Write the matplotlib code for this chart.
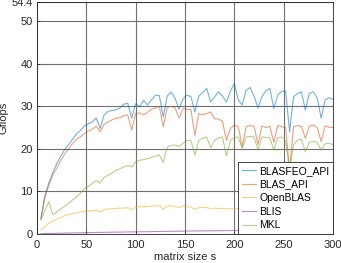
import numpy as np
import matplotlib
matplotlib.use("Agg")
import matplotlib.pyplot as plt

plt.rcParams['font.family'] = ['Liberation Sans', 'DejaVu Sans']

# matrix sizes
s = np.arange(4, 301, 4)

blasfeo_api = [3.5, 9.0, 12.0, 14.5, 16.5, 18.3, 19.8, 21.0, 22.2, 23.5,
               24.3, 25.4, 25.9, 26.3, 27.3, 24.8, 28.0, 28.8, 29.0, 29.2,
               29.6, 30.5, 30.7, 27.2, 30.6, 29.9, 31.4, 30.3, 31.5, 32.6,
               32.5, 27.5, 32.4, 33.4, 31.8, 29.3, 31.8, 32.6, 32.3, 28.7,
               32.4, 33.2, 34.2, 31.0, 32.2, 33.4, 32.4, 31.0, 33.5, 35.4,
               31.5, 30.3, 33.8, 34.4, 32.4, 29.6, 32.3, 33.7, 34.2, 29.5,
               32.6, 33.5, 33.6, 24.0, 32.2, 33.0, 33.4, 29.1, 33.0, 33.4,
               32.0, 27.2, 31.5, 32.0, 31.6]

blas_api = [3.8, 8.5, 11.5, 13.8, 15.5, 17.3, 18.8, 20.0, 21.2, 22.3,
            22.8, 23.6, 24.2, 24.6, 25.3, 24.0, 25.8, 26.3, 26.8, 27.2,
            27.3, 27.8, 28.0, 24.4, 28.4, 28.4, 28.0, 28.6, 29.3, 29.6,
            30.0, 25.2, 29.7, 30.0, 29.6, 27.2, 29.5, 29.3, 29.2, 23.2,
            28.3, 28.0, 28.3, 28.7, 27.1, 27.0, 26.5, 22.0, 24.8, 25.6,
            25.2, 20.5, 25.2, 25.5, 25.3, 21.0, 25.4, 25.0, 25.3, 21.5,
            25.5, 25.2, 25.0, 15.0, 25.2, 25.5, 25.3, 22.5, 25.3, 25.6,
            25.0, 21.7, 25.4, 25.1, 25.0]

openblas = [1.0, 1.8, 2.5, 3.1, 3.5, 3.9, 4.3, 4.6, 4.8, 5.0,
            5.2, 5.3, 5.4, 5.5, 5.6, 5.2, 5.8, 5.9, 5.9, 6.0,
            6.1, 6.1, 6.2, 5.7, 6.3, 6.4, 6.4, 6.5, 6.6, 6.6,
            6.7, 5.8, 6.6, 6.6, 6.5, 6.2, 6.6, 6.5, 6.3, 5.8,
            6.2, 6.3, 6.2, 5.9, 6.1, 6.0, 6.0, 5.9, 6.0, 6.0,
            5.9, 5.8, 5.8, 5.9, 5.9, 5.7, 5.9, 5.9, 5.8, 5.7,
            5.9, 5.9, 5.8, 5.5, 5.9, 5.9, 5.8, 5.7, 5.9, 5.9,
            5.8, 5.7, 5.8, 5.8, 5.8]

blis = [0.10, 0.12, 0.14, 0.16, 0.18, 0.20, 0.22, 0.24, 0.26, 0.28,
        0.30, 0.32, 0.34, 0.36, 0.38, 0.40, 0.41, 0.42, 0.44, 0.45,
        0.46, 0.48, 0.50, 0.51, 0.52, 0.54, 0.55, 0.56, 0.58, 0.60,
        0.61, 0.62, 0.64, 0.65, 0.66, 0.68, 0.70, 0.71, 0.72, 0.73,
        0.74, 0.75, 0.76, 0.77, 0.78, 0.79, 0.80, 0.81, 0.82, 0.83,
        0.84, 0.85, 0.86, 0.86, 0.87, 0.88, 0.88, 0.89, 0.90, 0.90,
        0.91, 0.92, 0.92, 0.93, 0.93, 0.94, 0.94, 0.95, 0.95, 0.96,
        0.96, 0.97, 0.97, 0.98, 0.98]

mkl = [3.3, 5.5, 7.6, 4.5, 5.2, 5.9, 6.5, 7.2, 8.0, 8.7,
       9.6, 10.6, 11.2, 11.9, 12.6, 12.0, 13.3, 13.8, 14.3, 14.9,
       15.3, 15.8, 16.1, 15.8, 17.0, 17.3, 17.5, 17.7, 18.0, 18.3,
       18.6, 16.8, 20.4, 20.8, 20.9, 20.6, 21.3, 22.0, 22.0, 18.5,
       22.0, 22.5, 22.8, 20.3, 22.0, 22.6, 22.8, 18.3, 22.0, 22.6,
       22.8, 20.1, 22.8, 22.9, 22.8, 19.7, 22.8, 22.7, 22.6, 19.7,
       22.6, 22.8, 22.0, 15.0, 21.0, 22.0, 22.3, 19.3, 21.5, 21.8,
       21.5, 19.7, 21.2, 21.3, 21.0]

labels = ['BLASFEO_API', 'BLAS_API', 'OpenBLAS', 'BLIS', 'MKL']
series = [blasfeo_api, blas_api, openblas, blis, mkl]
colors = ['#0072BD', '#D95319', '#EDB120', '#7E2F8E', '#77AC30']

fig = plt.figure(figsize=(3.41, 2.63), dpi=100)
ax = fig.add_axes([0.1085, 0.110, 0.868, 0.881])

for y, lab, c in zip(series, labels, colors):
    ax.plot(s, y, color=c, alpha=0.55, linewidth=0.8, label=lab)

ax.set_xlim(0, 300)
ax.set_ylim(0, 54.4)
ax.set_xticks([0, 50, 100, 150, 200, 250, 300])
ax.set_yticks([0, 10, 20, 30, 40, 50, 54.4])
ax.set_yticklabels(['0', '10', '20', '30', '40', '50', '54.4'])
ax.grid(True, color='#707070', linewidth=0.8)
ax.set_axisbelow(True)
ax.tick_params(direction='in', labelsize=8, colors='#262626', length=2.5, width=0.5)
ax.tick_params(axis='x', pad=4)
ax.tick_params(axis='y', pad=3)
for sp in ax.spines.values():
    sp.set_color('#262626')
    sp.set_linewidth(0.6)

ax.set_xlabel('matrix size s', fontsize=8, color='#262626', labelpad=2)
ax.set_ylabel('Gflops', fontsize=8, color='#262626', labelpad=2)

leg = ax.legend(loc='lower right', fontsize=7.5, frameon=True, fancybox=False,
                framealpha=1, edgecolor='#262626', borderaxespad=0,
                handlelength=1.4, handletextpad=0.3, labelspacing=0.35,
                borderpad=0.35)
leg.get_frame().set_linewidth(0.6)
for line in leg.get_lines():
    line.set_alpha(0.55)

fig.savefig('out.png', dpi=100)
